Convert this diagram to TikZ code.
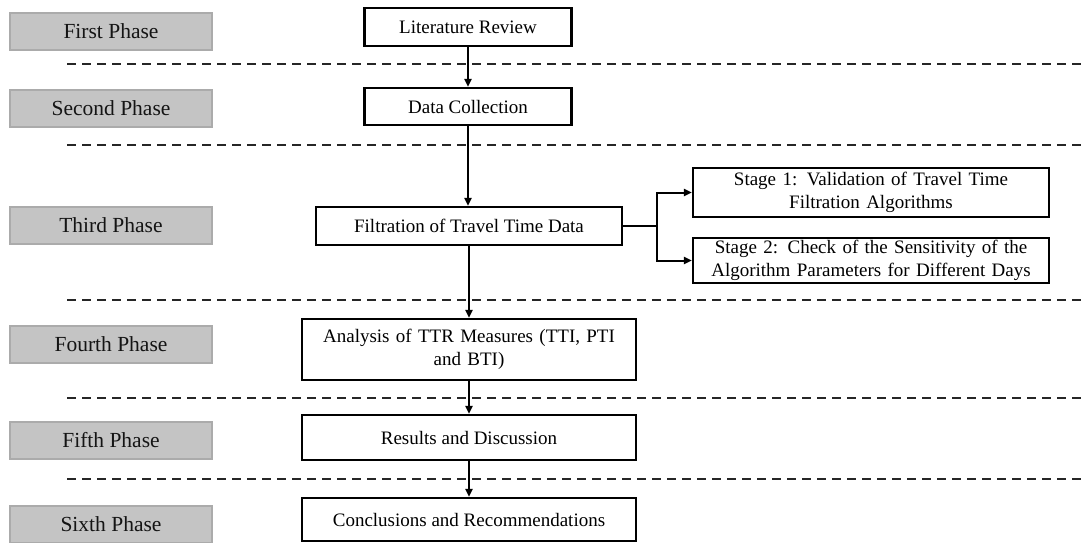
\documentclass[tikz,border=0pt]{standalone}
\usepackage{fontspec}
\setmainfont{Liberation Serif}
\usetikzlibrary{arrows.meta}
\begin{document}
\begin{tikzpicture}[x=1pt,y=-1pt,
  phasebox/.style={fill=black!23, draw=black!33, line width=1.2pt, inner sep=0pt,
    minimum width=202pt, minimum height=37pt, text=black!92,
    font=\fontsize{21.5}{25}\selectfont},
  stepbox/.style={draw=black, fill=white, line width=2.3pt, inner sep=0pt, align=center,
    font=\fontsize{19}{23}\selectfont},
  sep/.style={dashed, dash pattern=on 9pt off 6pt, line width=2pt, black!85},
  flow/.style={line width=2pt, -{Triangle[length=8pt,width=7pt]}}
]
\useasboundingbox (0,0) rectangle (1087,542);

% phase labels
\node[phasebox] (p1) at (111,31.5) {First Phase};
\node[phasebox] (p2) at (111,108.5) {Second Phase};
\node[phasebox] (p3) at (111,225.5) {Third Phase};
\node[phasebox] (p4) at (111,344.5) {Fourth Phase};
\node[phasebox] (p5) at (111,440.5) {Fifth Phase};
\node[phasebox] (p6) at (111,524.5) {Sixth Phase};

% separators
\coordinate (l1a) at (67,64);  \coordinate (l1b) at (1087,64);
\coordinate (l2a) at (67,145); \coordinate (l2b) at (1087,145);
\coordinate (l3a) at (67,300); \coordinate (l3b) at (1087,300);
\coordinate (l4a) at (67,398); \coordinate (l4b) at (1087,398);
\coordinate (l5a) at (67,479); \coordinate (l5b) at (1087,479);
\draw[sep] (l1a) -- (l1b);
\draw[sep] (l2a) -- (l2b);
\draw[sep] (l3a) -- (l3b);
\draw[sep] (l4a) -- (l4b);
\draw[sep] (l5a) -- (l5b);

% steps
\node[stepbox, minimum width=207pt, minimum height=38pt] (lit) at (468,27) {Literature Review};
\node[stepbox, minimum width=207pt, minimum height=37pt] (data) at (468,106.5) {Data Collection};
\node[stepbox, minimum width=306pt, minimum height=38pt] (filt) at (469,226) {Filtration of Travel Time Data};
\node[stepbox, minimum width=356pt, minimum height=49pt, text width=350pt] (s1) at (871,192.5)
  {Stage 1: Validation of Travel Time\\Filtration Algorithms};
\node[stepbox, minimum width=356pt, minimum height=45pt, text width=350pt] (s2) at (871,260.5)
  {Stage 2: Check of the Sensitivity of the\\Algorithm Parameters for Different Days};
\node[stepbox, minimum width=334pt, minimum height=61pt, text width=330pt] (ana) at (469,349.5)
  {Analysis of TTR Measures (TTI, PTI\\and BTI)};
\node[stepbox, minimum width=334pt, minimum height=45pt] (res) at (469,437.5) {Results and Discussion};
\node[stepbox, minimum width=334pt, minimum height=43pt] (con) at (469,519.5) {Conclusions and Recommendations};

% connectors
\draw[flow] (lit.south) -- (data.north);
\draw[flow] (data.south) -- (data.south |- filt.north);
\draw[flow] (filt.south) -- (filt.south |- ana.north);
\draw[flow] (ana.south) -- (ana.south |- res.north);
\draw[flow] (res.south) -- (res.south |- con.north);
\coordinate (br) at (657,226);
\draw[flow] (filt.east) -- (br) |- (s1.west);
\draw[flow] (filt.east) -- (br) |- (s2.west);
\end{tikzpicture}
\end{document}
